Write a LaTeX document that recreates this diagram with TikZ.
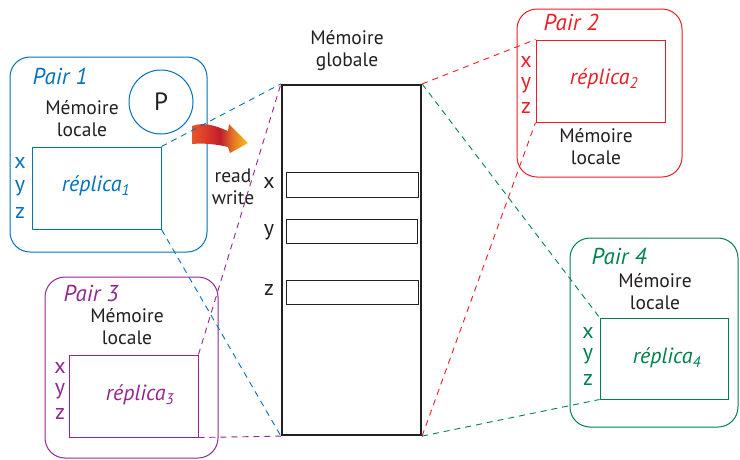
\documentclass[tikz,border=0pt]{standalone}
\usepackage{fontspec}
\setmainfont{PT Sans}
\usetikzlibrary{shapes.geometric}
\definecolor{cblue}{HTML}{0072BC}
\definecolor{cred}{HTML}{ED1C24}
\definecolor{cpurple}{HTML}{92278F}
\definecolor{cgreen}{HTML}{00804A}
\definecolor{ctext}{HTML}{231F20}
\definecolor{ashA}{HTML}{E8562A}
\definecolor{ashB}{HTML}{D93A2B}
\definecolor{ashC}{HTML}{BE1E2D}
\definecolor{ashD}{HTML}{E57A26}
\definecolor{ashE}{HTML}{F8C21A}
\pgfdeclarehorizontalshading{arrowshade}{100bp}{color(0bp)=(ashA); color(25bp)=(ashA); color(38bp)=(ashB); color(50bp)=(ashC); color(62bp)=(ashD); color(75bp)=(ashE); color(100bp)=(ashE)}
\tikzset{
  pairbox/.style={draw, line width=1pt, rounded corners=20pt, anchor=center},
  repbox/.style={draw, line width=1pt, anchor=center, inner sep=0pt},
  slotbox/.style={draw=ctext, line width=1pt, anchor=center, inner sep=0pt},
  lbl/.style={text=ctext, font=\fontsize{19.5}{22}\selectfont, align=center, inner sep=0pt},
  pairlbl/.style={font=\fontsize{23}{24}\selectfont\itshape, inner sep=0pt},
  replbl/.style={font=\fontsize{22}{24}\selectfont\itshape, inner sep=0pt},
  xyz/.style={font=\fontsize{22}{24}\selectfont, inner sep=0pt},
  conn/.style={line width=0.9pt, dash pattern=on 6pt off 5pt},
}
\begin{document}
\begin{tikzpicture}[x=1pt, y=-1pt]
\useasboundingbox (0,0) rectangle (740,459);
% Global memory
\node[draw=ctext, line width=2.2pt, minimum width=139pt, minimum height=350pt, inner sep=0pt] (glob) at (351.5,260) {};
\node[slotbox, minimum width=132pt, minimum height=25pt] (sx) at (352,184.5) {};
\node[slotbox, minimum width=131pt, minimum height=24pt] (sy) at (351.5,231) {};
\node[slotbox, minimum width=132pt, minimum height=24pt] (sz) at (352,292) {};
\node[xyz, text=ctext] (gx) at (269,183) {x};
\node[xyz, text=ctext] (gy) at (269,232) {y};
\node[xyz, text=ctext] (gz) at (269,290) {z};
\node[lbl] (gtitle) at (347,51) {Mémoire\\globale};

% Pair 1
\node[pairbox, draw=cblue, minimum width=197pt, minimum height=195pt] (p1) at (108.5,154.5) {};
\node[pairlbl, text=cblue] (p1t) at (60,76) {Pair 1};
\node[draw=cblue, line width=1pt, circle, minimum size=64pt, inner sep=0pt, font=\fontsize{25}{25}\selectfont, text=ctext] (proc) at (161,102) {P};
\node[lbl] (p1m) at (82,119) {Mémoire\\locale};
\node[repbox, draw=cblue, minimum width=129pt, minimum height=82pt] (r1) at (96.5,188) {};
\node[replbl, text=cblue] (r1t) at (96,186) {réplica\textsubscript{1}};
\node[xyz, text=cblue] (r1x) at (20,163) {x};
\node[xyz, text=cblue] (r1y) at (20,188) {y};
\node[xyz, text=cblue] (r1z) at (20,213) {z};

% arrow
\shade[shading=arrowshade] (192,126) .. controls (205,121) and (218,127) .. (228,131)
  -- (229,124) -- (248,143) -- (230,153) -- (228,147)
  .. controls (216,144) and (203,143) .. (192,144) -- cycle;
\node[lbl] (rw) at (233,187) {read\\write};

% Pair 3
\node[pairbox, draw=cpurple, minimum width=173pt, minimum height=181pt] (p3) at (131.5,367.5) {};
\node[pairlbl, text=cpurple] (p3t) at (91,293) {Pair 3};
\node[lbl] (p3m) at (127,327) {Mémoire\\locale};
\node[repbox, draw=cpurple, minimum width=129pt, minimum height=82pt] (r3) at (133.5,396) {};
\node[replbl, text=cpurple] (r3t) at (140,395) {réplica\textsubscript{3}};
\node[xyz, text=cpurple] (r3x) at (60,368) {x};
\node[xyz, text=cpurple] (r3y) at (60,391) {y};
\node[xyz, text=cpurple] (r3z) at (60,414) {z};

% Pair 2
\node[pairbox, draw=cred, minimum width=165pt, minimum height=168pt] (p2) at (599.5,93) {};
\node[pairlbl, text=cred] (p2t) at (571,22) {Pair 2};
\node[repbox, draw=cred, minimum width=129pt, minimum height=82pt] (r2) at (600.5,81) {};
\node[replbl, text=cred] (r2t) at (604,79) {réplica\textsubscript{2}};
\node[xyz, text=cred] (r2x) at (526,62) {x};
\node[xyz, text=cred] (r2y) at (526,85) {y};
\node[xyz, text=cred] (r2z) at (526,108) {z};
\node[lbl] (p2m) at (596,147) {Mémoire\\locale};

% Pair 4
\node[pairbox, draw=cgreen, minimum width=168pt, minimum height=189pt] (p4) at (654,332.5) {};
\node[pairlbl, text=cgreen] (p4t) at (619,256) {Pair 4};
\node[lbl] (p4m) at (655,292) {Mémoire\\locale};
\node[repbox, draw=cgreen, minimum width=128pt, minimum height=81pt] (r4) at (664,358.5) {};
\node[replbl, text=cgreen] (r4t) at (667,358) {réplica\textsubscript{4}};
\node[xyz, text=cgreen] (r4x) at (588,333) {x};
\node[xyz, text=cgreen] (r4y) at (588,356) {y};
\node[xyz, text=cgreen] (r4z) at (588,380) {z};

% connectors
\draw[conn, cblue] (r1.north east) -- (glob.north west);
\draw[conn, cblue] (r1.south east) -- (glob.south west);
\draw[conn, cpurple] (r3.north east) -- (glob.north west);
\draw[conn, cpurple] (r3.south east) -- (glob.south west);
\draw[conn, cred] (glob.north east) -- (r2.north west);
\draw[conn, cred] (glob.south east) -- (r2.south west);
\draw[conn, cgreen] (glob.north east) -- (r4.north west);
\draw[conn, cgreen] (glob.south east) -- (r4.south west);
\end{tikzpicture}
\end{document}
